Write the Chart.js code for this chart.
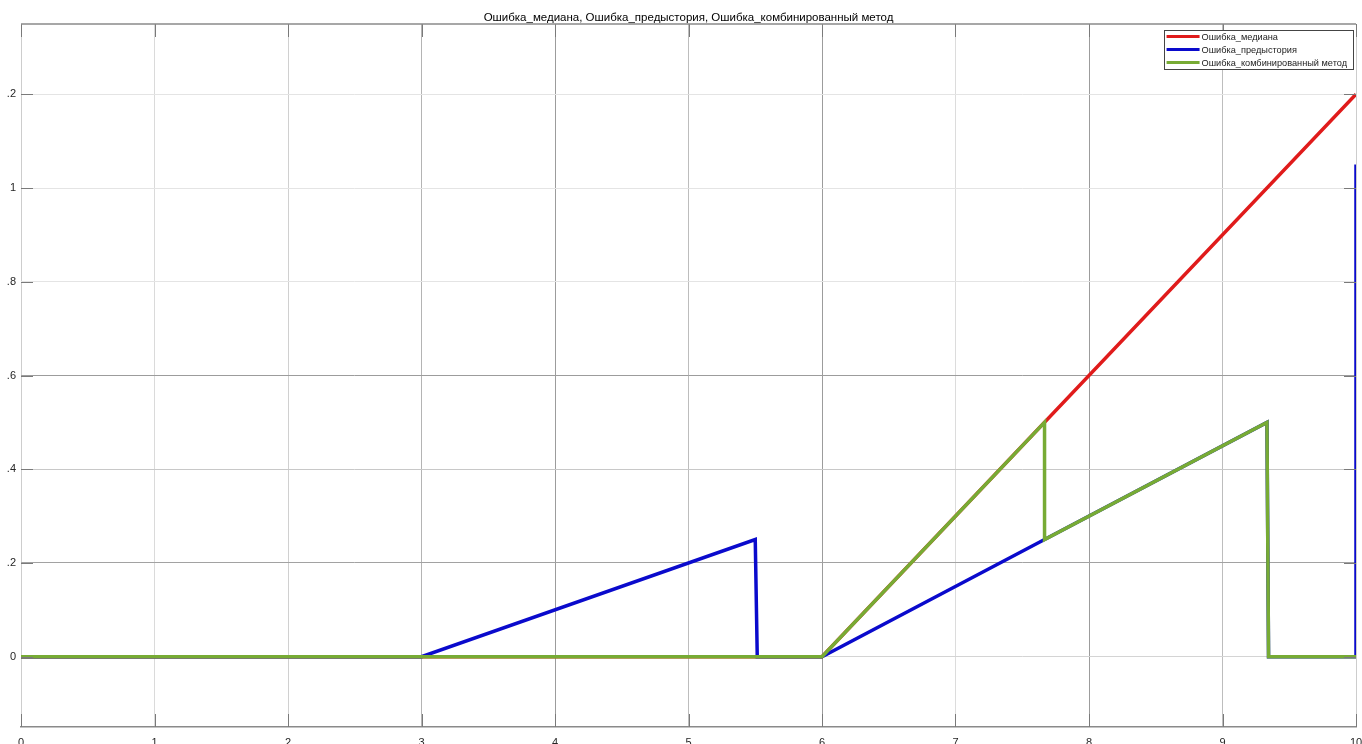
<!DOCTYPE html>
<html>
<head>
<meta charset="utf-8">
<script src="https://cdn.jsdelivr.net/npm/chart.js@4.4.1/dist/chart.umd.min.js"></script>
<style>
    html, body { margin: 0; padding: 0; background: #fff; overflow: hidden; }
    #wrap { position: relative; width: 1362px; height: 744px; overflow: hidden; }
    #errChart { position: absolute; left: 0; top: 0; }
</style>
</head>
<body>
<div id="wrap"><canvas id="errChart" width="1362" height="760"></canvas></div>
<script>
// ------------------------------
// Data
// ------------------------------
const chartTitle = "Ошибка_медиана, Ошибка_предыстория, Ошибка_комбинированный метод";
const seriesNames = ["Ошибка_медиана", "Ошибка_предыстория", "Ошибка_комбинированный метод"];

const tMedian = [0, 6, 10];
const eMedian = [0, 0, 1.2];

const tPrehistory = [0, 3, 5.5, 5.515, 6, 7.667, 9.333, 9.345, 10, 10];
const ePrehistory = [0, 0, 0.25, 0, 0, 0.25, 0.5, 0, 0, 1.05];

const tCombined = [0, 6, 7.667, 7.667, 9.333, 9.345, 10];
const eCombined = [0, 0, 0.5, 0.25, 0.5, 0, 0];

const xTickValues = [0, 1, 2, 3, 4, 5, 6, 7, 8, 9, 10];
const xTickLabels = ["0", "1", "2", "3", "4", "5", "6", "7", "8", "9", "10"];
const yTickValues = [0, 0.2, 0.4, 0.6, 0.8, 1, 1.2];
const yTickLabels = ["0", ".2", ".4", ".6", ".8", "1", ".2"];

// grid shades as they come out in the picture
const xGridShade = ["#cdcdcd", "#dadada", "#d0d0d0", "#b4b4b4", "#9c9c9c", "#bdbdbd", "#9c9c9c", "#dcdcdc", "#9c9c9c", "#bdbdbd", "#cdcdcd"];
const yGridShade = ["#d4d4d4", "#a2a2a2", "#c8c8c8", "#9c9c9c", "#e4e4e4", "#e4e4e4", "#e4e4e4"];

const FONT = "'Liberation Sans', Arial, sans-serif";

function toPoints(xs, ys) {
    return xs.map((x, i) => ({ x, y: ys[i] }));
}

// ------------------------------
// Frame, title, legend
// ------------------------------
const matlabFrame = {
    id: "matlabFrame",
    afterDatasetsDraw(chart) {
        const { ctx, chartArea: a, scales: { x, y } } = chart;
        ctx.save();

        // inward tick marks
        ctx.strokeStyle = "#7a7a7a";
        ctx.lineWidth = 1;
        ctx.beginPath();
        x.ticks.forEach(t => {
            const px = Math.round(x.getPixelForValue(t.value)) + 0.5;
            ctx.moveTo(px, a.top); ctx.lineTo(px, a.top + 13);
            ctx.moveTo(px, a.bottom); ctx.lineTo(px, a.bottom - 13);
        });
        y.ticks.forEach(t => {
            const py = Math.round(y.getPixelForValue(t.value)) + 0.5;
            ctx.moveTo(a.left, py); ctx.lineTo(a.left + 12, py);
            ctx.moveTo(a.right, py); ctx.lineTo(a.right - 12, py);
        });
        ctx.stroke();

        // top of the box
        ctx.strokeStyle = "#8a8a8a";
        ctx.lineWidth = 1.5;
        ctx.beginPath();
        ctx.moveTo(a.left, a.top);
        ctx.lineTo(a.right, a.top);
        ctx.stroke();
        ctx.restore();
    },
    afterDraw(chart) {
        const { ctx, chartArea: a } = chart;
        ctx.save();

        // title
        ctx.fillStyle = "#000";
        ctx.font = "11.5px " + FONT;
        ctx.textAlign = "center";
        ctx.textBaseline = "alphabetic";
        ctx.fillText(chartTitle, (a.left + a.right) / 2, 21);

        // legend
        ctx.font = "9.2px " + FONT;
        const sets = chart.data.datasets;
        const textW = Math.max(...sets.map(d => ctx.measureText(d.label).width));
        const rowH = 13;
        const boxW = 3 + 33 + 2 + textW + 6;
        const boxH = rowH * sets.length;
        const bx = a.right - 3 - boxW;
        const by = a.top + 6;

        ctx.fillStyle = "#fff";
        ctx.fillRect(bx, by, boxW, boxH);
        ctx.strokeStyle = "#444";
        ctx.lineWidth = 1;
        ctx.strokeRect(Math.round(bx) + 0.5, Math.round(by) + 0.5, Math.round(boxW), Math.round(boxH));

        ctx.textAlign = "left";
        ctx.textBaseline = "middle";
        sets.forEach((d, i) => {
            const cy = by + rowH * i + rowH / 2;
            ctx.strokeStyle = d.borderColor;
            ctx.lineWidth = 3;
            ctx.beginPath();
            ctx.moveTo(bx + 3, cy);
            ctx.lineTo(bx + 36, cy);
            ctx.stroke();
            ctx.fillStyle = "#222";
            ctx.fillText(d.label, bx + 38, cy + 0.5);
        });
        ctx.restore();
    }
};

// ------------------------------
// Chart
// ------------------------------
const lineStyle = {
    borderWidth: 3.5,
    pointRadius: 0,
    tension: 0,
    fill: false
};

new Chart(document.getElementById("errChart"), {
    type: "line",
    data: {
        datasets: [
            { label: seriesNames[0], data: toPoints(tMedian, eMedian), borderColor: "#e01b1b", order: 2, ...lineStyle },
            { label: seriesNames[1], data: toPoints(tPrehistory, ePrehistory), borderColor: "#0a0acc", order: 1, ...lineStyle },
            { label: seriesNames[2], data: toPoints(tCombined, eCombined), borderColor: "#77ab34", order: 0, ...lineStyle }
        ]
    },
    options: {
        responsive: false,
        animation: false,
        layout: { padding: { top: 24, right: 6, left: 0, bottom: 0 } },
        plugins: {
            legend: { display: false },
            title: { display: false },
            tooltip: { enabled: false }
        },
        scales: {
            x: {
                type: "linear",
                min: 0,
                max: 10,
                afterFit: s => { s.height = 33; s.paddingLeft = 0; s.paddingRight = 0; },
                afterBuildTicks: s => { s.ticks = xTickValues.map(v => ({ value: v })); },
                ticks: {
                    padding: 9,
                    maxRotation: 0,
                    autoSkip: false,
                    color: "#262626",
                    font: { family: FONT, size: 11 },
                    callback: (v, i) => xTickLabels[i]
                },
                grid: {
                    drawTicks: false,
                    color: c => xGridShade[c.index] || "#d0d0d0",
                    lineWidth: 1
                },
                border: { display: true, color: "#8a8a8a", width: 1.5 }
            },
            y: {
                type: "linear",
                min: -0.15,
                max: 1.35,
                afterFit: s => { s.width = 21; s.paddingTop = 0; s.paddingBottom = 0; },
                afterBuildTicks: s => { s.ticks = yTickValues.map(v => ({ value: v })); },
                ticks: {
                    padding: 5,
                    autoSkip: false,
                    color: "#262626",
                    font: { family: FONT, size: 11 },
                    callback: (v, i) => yTickLabels[i]
                },
                grid: {
                    drawTicks: false,
                    color: c => yGridShade[c.index] || "#d0d0d0",
                    lineWidth: 1
                },
                border: { display: false }
            }
        }
    },
    plugins: [matlabFrame]
});
</script>
</body>
</html>
